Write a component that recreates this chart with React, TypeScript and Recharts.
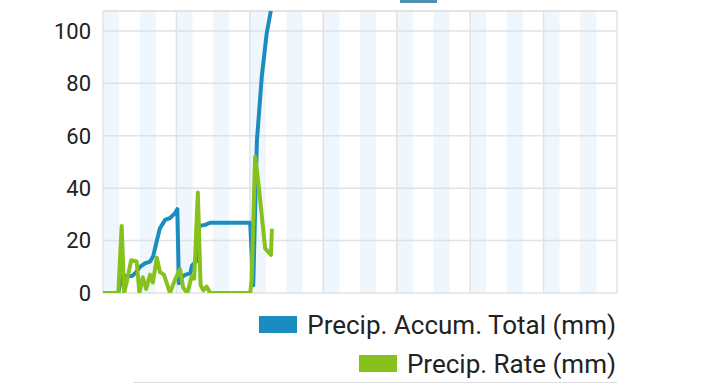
import { LineChart, Line, XAxis, YAxis, CartesianGrid, ReferenceLine, ReferenceArea, Legend } from 'recharts'

// hours since start of the 7-day window
const totalHours = [0, 5.0, 6.1, 9.5, 10.5, 12.1, 13.7, 15.4, 16.4, 17.6, 18.6, 20.3, 21.9, 23.5, 24.3, 24.8, 25.8, 26.8, 28.5, 29.1, 30.4, 31.4, 33.4, 35.0, 48.1, 49.1, 50.3, 51.9, 53.5, 55.2]
const totalValues = [0, 0, 6.5, 6.5, 7.5, 10, 11.3, 12, 14, 20, 24.7, 27.9, 28.6, 30.4, 32, 3.7, 6, 6.9, 7.5, 10.5, 12, 25.6, 26, 26.8, 26.8, 3, 58, 82.6, 99, 110]

const rateHours = [0, 5.0, 6.1, 6.9, 7.9, 9.2, 11.0, 11.9, 13.0, 14.1, 15.4, 16.3, 17.6, 18.6, 19.9, 21.9, 23.5, 25.2, 26.2, 27.6, 29.0, 29.8, 31.0, 31.9, 32.8, 33.9, 35.0, 48.1, 48.6, 49.7, 50.8, 53.0, 54.9, 55.2]
const rateValues = [0, 0, 25.6, 0, 5, 12.5, 12, 0, 6, 1.5, 7, 4, 13.5, 8, 7, 0, 5, 9, 2, 0, 6.5, 5.5, 38.3, 3, 1, 2.4, 0, 0, 5, 52, 42, 17, 14.5, 24.5]

const dayTicks = [0, 24, 48, 72, 96, 120, 144, 168]
// shaded bands start every 12h
const stripeStarts = [0, 12, 24, 36, 48, 60, 72, 84, 96, 108, 120, 132, 144, 156]
const STRIPE_LEN = 5.25
const yTicks = [0, 20, 40, 60, 80, 100]
const Y_MAX = 107.6

const BLUE = '#1b8cbf'
const GREEN = '#86c21b'
const GRID = '#e2e2e2'

const legendItems = [
  { name: 'Precip. Accum. Total (mm)', color: BLUE },
  { name: 'Precip. Rate (mm)', color: GREEN },
]

const totalData = totalHours.map((h, i) => ({ h, v: totalValues[i] }))
const rateData = rateHours.map((h, i) => ({ h, v: rateValues[i] }))

const renderLegend = () => (
  <div style={{ display: 'flex', flexDirection: 'column', alignItems: 'flex-end' }}>
    {legendItems.map(item => (
      <div key={item.name} style={{ display: 'flex', alignItems: 'center', height: 39 }}>
        <span style={{ display: 'inline-block', width: 38, height: 17, background: item.color, marginRight: 10 }} />
        <span style={{ fontSize: 26, color: '#222', fontFamily: 'Roboto' }}>{item.name}</span>
      </div>
    ))}
  </div>
)

export default function App() {
  return (
    <div style={{ position: 'fixed', top: 0, left: 0, width: 720, height: 385, overflow: 'hidden', background: '#fff' }}>
      <div style={{ position: 'absolute', left: 400, top: 0, width: 37, height: 3, background: '#4f8fb0' }} />
      <LineChart width={720} height={385} margin={{ top: 11, right: 103, bottom: 92, left: 0 }}>
        <XAxis dataKey="h" type="number" domain={[0, 168]} ticks={dayTicks} interval={0}
          tick={false} tickLine={false} axisLine={false} height={0} />
        <YAxis type="number" domain={[0, Y_MAX]} ticks={yTicks} allowDataOverflow width={103}
          axisLine={false} tickLine={false} tickSize={0} tickMargin={12}
          tick={{ fill: '#222', fontSize: 22, fontFamily: 'Roboto' }} />
        <CartesianGrid stroke={GRID} strokeWidth={1.5} vertical={false} />
        {stripeStarts.map(s => (
          <ReferenceArea key={`s-${s}`} x1={s} x2={s + STRIPE_LEN} y1={0} y2={Y_MAX}
            fill="#c9e1f5" fillOpacity={0.3} stroke="none" />
        ))}
        {dayTicks.map(t => (
          <ReferenceLine key={`d-${t}`} x={t} stroke={GRID} strokeWidth={1.5} />
        ))}
        <ReferenceLine y={Y_MAX} stroke={GRID} strokeWidth={1.5} />
        <Line data={totalData} dataKey="v" type="linear" stroke={BLUE} strokeWidth={4} dot={false}
          strokeLinejoin="round" isAnimationActive={false} />
        <Line data={rateData} dataKey="v" type="linear" stroke={GREEN} strokeWidth={4} dot={false}
          strokeLinejoin="round" isAnimationActive={false} />
        <Legend layout="vertical" align="center" verticalAlign="middle" content={renderLegend}
          wrapperStyle={{ left: 0, top: 305, width: 616 }} />
      </LineChart>
      <div style={{ position: 'absolute', left: 133, top: 382, width: 484, borderTop: '1.5px solid #ddd' }} />
    </div>
  )
}
